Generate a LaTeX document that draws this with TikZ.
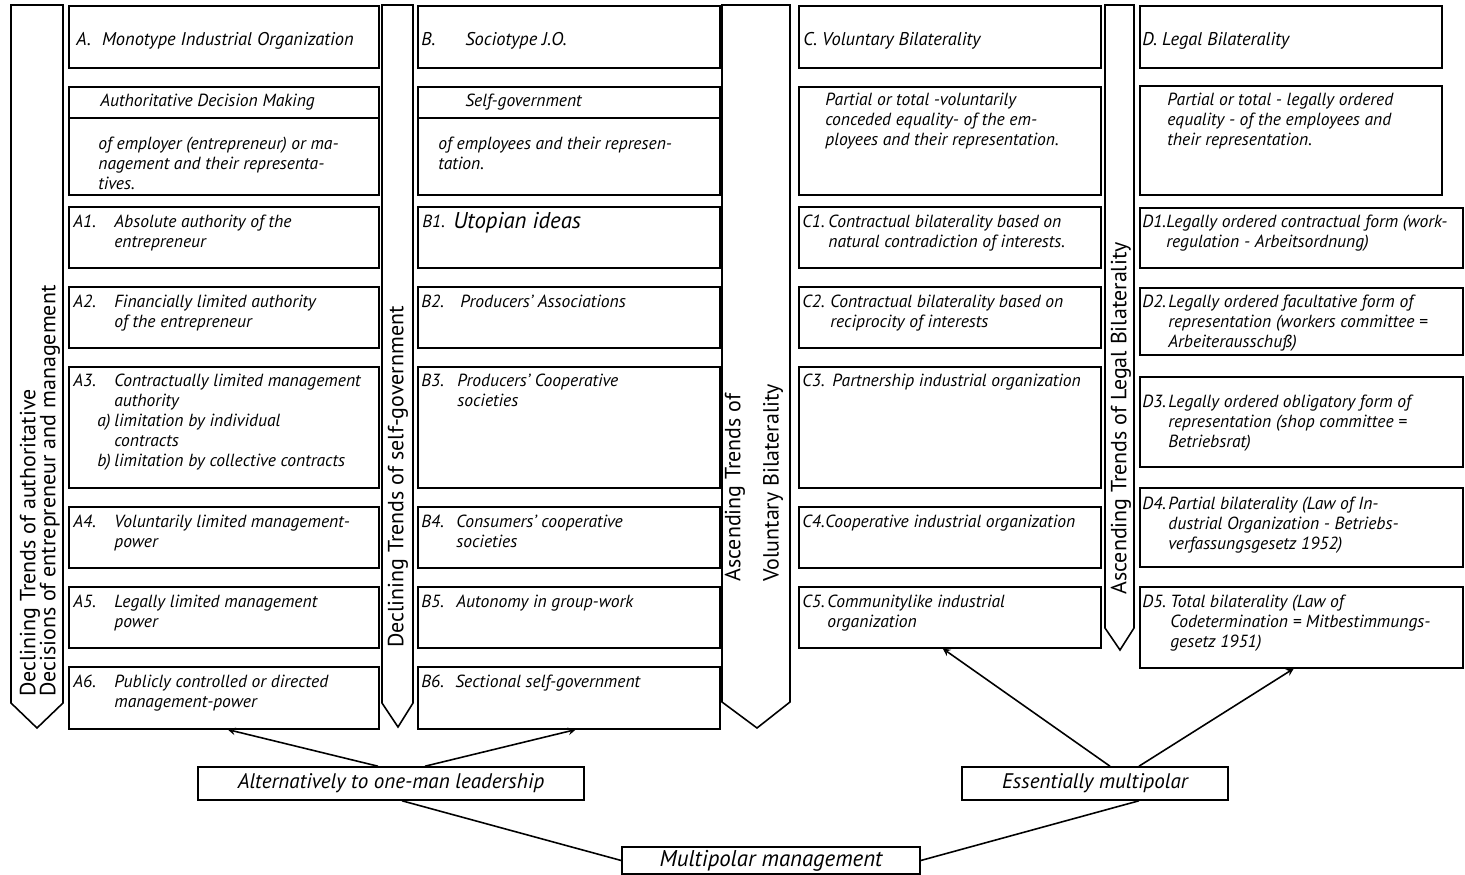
\documentclass[tikz,border=0pt]{standalone}
\usepackage{fontspec}
\setmainfont{PT Sans}
\usepackage{tikz}

\tikzset{
  box/.style={draw, line width=0.9pt, inner sep=0pt, anchor=north west},
  txt/.style={anchor=north west, inner sep=0pt, align=left, font=\fontsize{10}{11.3}\selectfont\itshape},
  head/.style={anchor=north west, inner sep=0pt, font=\fontsize{10.5}{12}\selectfont\itshape},
  trend/.style={rotate=90, anchor=west, inner sep=0pt, font=\fontsize{12.5}{14}\selectfont},
  tag/.style={draw, line width=0.9pt, inner sep=0pt, font=\fontsize{12}{14}\selectfont\itshape},
  band/.style={line width=0.9pt}
}

\begin{document}
\begin{tikzpicture}[x=0.02cm, y=-0.02cm, >=stealth]
    \useasboundingbox (0,0) rectangle (1465,875);

    % trend arrows
    \draw[band] (11,5) -- (63,5) -- (63,703) -- (37,728) -- (11,703) -- cycle;
    \draw[band] (382,5) -- (413,5) -- (413,703) -- (398,727) -- (382,703) -- cycle;
    \draw[band] (722,5) -- (790,5) -- (790,702) -- (757,728) -- (722,702) -- cycle;
    \draw[band] (1105,5) -- (1134,5) -- (1134,628) -- (1120,650) -- (1105,628) -- cycle;
    \node[trend] (tr1a) at (30,697) {Declining Trends of authoritative};
    \node[trend] (tr1b) at (50,697) {Decisions of entrepreneur and management};
    \node[trend] (tr2) at (398,648) {Declining Trends of self-government};
    \node[trend] (tr3a) at (735,582) {Ascending Trends of};
    \node[trend] (tr3b) at (773,582) {Voluntary Bilaterality};
    \node[trend] (tr4) at (1121,595) {Ascending Trends of Legal Bilaterality};

    % column A
    \node[box, minimum width=6.2cm, minimum height=1.24cm] (atitle) at (68,5) {};
    \node[box, minimum width=6.2cm, minimum height=2.16cm] (adesc) at (68,86) {};
    \draw[band] (68,118) -- (378,118);
    \node[box, minimum width=6.2cm, minimum height=1.22cm] (a1) at (68,206) {};
    \node[box, minimum width=6.2cm, minimum height=1.22cm] (a2) at (68,286) {};
    \node[box, minimum width=6.2cm, minimum height=2.42cm] (a3) at (68,366) {};
    \node[box, minimum width=6.2cm, minimum height=1.22cm] (a4) at (68,506) {};
    \node[box, minimum width=6.2cm, minimum height=1.22cm] (a5) at (68,586) {};
    \node[box, minimum width=6.2cm, minimum height=1.24cm] (a6) at (68,666) {};
    \node[head] (ath) at (76,32) {A.\hspace{0.6em}Monotype Industrial Organization};
    \node[txt] (adh) at (100,94) {Authoritative Decision Making};
    \node[txt] (adt) at (98,137) {of employer (entrepreneur) or ma-\\nagement and their representa-\\tives.};
    \node[txt] (a1n) at (73,215) {A1.};
    \node[txt] (a1t) at (114,215) {Absolute authority of the\\entrepreneur};
    \node[txt] (a2n) at (73,295) {A2.};
    \node[txt] (a2t) at (114,295) {Financially limited authority\\of the entrepreneur};
    \node[txt] (a3n) at (73,374) {A3.};
    \node[txt] (a3t) at (114,374) {Contractually limited management\\authority};
    \node[txt] (a3an) at (97,414) {a)};
    \node[txt] (a3at) at (114,414) {limitation by individual\\contracts};
    \node[txt] (a3bn) at (97,454) {b)};
    \node[txt] (a3bt) at (114,454) {limitation by collective contracts};
    \node[txt] (a4n) at (73,515) {A4.};
    \node[txt] (a4t) at (114,515) {Voluntarily limited management-\\power};
    \node[txt] (a5n) at (73,595) {A5.};
    \node[txt] (a5t) at (114,595) {Legally limited management\\power};
    \node[txt] (a6n) at (73,675) {A6.};
    \node[txt] (a6t) at (114,675) {Publicly controlled or directed\\management-power};

    % column B
    \node[box, minimum width=6.04cm, minimum height=1.24cm] (btitle) at (417,5) {};
    \node[box, minimum width=6.04cm, minimum height=2.16cm] (bdesc) at (417,86) {};
    \draw[band] (417,118) -- (719,118);
    \node[box, minimum width=6.04cm, minimum height=1.22cm] (b1) at (417,206) {};
    \node[box, minimum width=6.04cm, minimum height=1.22cm] (b2) at (417,286) {};
    \node[box, minimum width=6.04cm, minimum height=2.42cm] (b3) at (417,366) {};
    \node[box, minimum width=6.04cm, minimum height=1.22cm] (b4) at (417,506) {};
    \node[box, minimum width=6.04cm, minimum height=1.22cm] (b5) at (417,586) {};
    \node[box, minimum width=6.04cm, minimum height=1.24cm] (b6) at (417,666) {};
    \node[head] (bthn) at (421,32) {B.};
    \node[head] (btht) at (465,32) {Sociotype J.O.};
    \node[txt] (bdh) at (465,94) {Self-government};
    \node[txt] (bdt) at (438,137) {of employees and their represen-\\tation.};
    \node[txt] (b1n) at (422,215) {B1.};
    \node[txt, font=\fontsize{13}{15}\selectfont\itshape] (b1t) at (453,212) {Utopian ideas};
    \node[txt] (b2n) at (421,295) {B2.};
    \node[txt] (b2t) at (460,295) {Producers' Associations};
    \node[txt] (b3n) at (421,374) {B3.};
    \node[txt] (b3t) at (457,374) {Producers' Cooperative\\societies};
    \node[txt] (b4n) at (421,515) {B4.};
    \node[txt] (b4t) at (456,515) {Consumers' cooperative\\societies};
    \node[txt] (b5n) at (421,595) {B5.};
    \node[txt] (b5t) at (456,595) {Autonomy in group-work};
    \node[txt] (b6n) at (421,675) {B6.};
    \node[txt] (b6t) at (455,675) {Sectional self-government};

    % column C
    \node[box, minimum width=6.04cm, minimum height=1.24cm] (ctitle) at (798,5) {};
    \node[box, minimum width=6.04cm, minimum height=2.16cm] (cdesc) at (798,86) {};
    \node[box, minimum width=6.04cm, minimum height=1.22cm] (c1) at (798,206) {};
    \node[box, minimum width=6.04cm, minimum height=1.22cm] (c2) at (798,286) {};
    \node[box, minimum width=6.04cm, minimum height=2.42cm] (c3) at (798,366) {};
    \node[box, minimum width=6.04cm, minimum height=1.22cm] (c4) at (798,506) {};
    \node[box, minimum width=6.04cm, minimum height=1.22cm] (c5) at (798,586) {};
    \node[head] (cth) at (803,32) {C. Voluntary Bilaterality};
    \node[txt] (cdt) at (825,93) {Partial or total -voluntarily\\conceded equality- of the em-\\ployees and their representation.};
    \node[txt] (c1n) at (802,215) {C1.};
    \node[txt] (c1t) at (828,215) {Contractual bilaterality based on\\natural contradiction of interests.};
    \node[txt] (c2n) at (802,295) {C2.};
    \node[txt] (c2t) at (830,295) {Contractual bilaterality based on\\reciprocity of interests};
    \node[txt] (c3n) at (802,374) {C3.};
    \node[txt] (c3t) at (832,374) {Partnership industrial organization};
    \node[txt] (c4n) at (802,515) {C4.};
    \node[txt] (c4t) at (825,515) {Cooperative industrial organization};
    \node[txt] (c5n) at (802,595) {C5.};
    \node[txt] (c5t) at (827,595) {Communitylike industrial\\organization};

    % column D
    \node[box, minimum width=6.04cm, minimum height=1.24cm] (dtitle) at (1139,5) {};
    \node[box, minimum width=6.04cm, minimum height=2.18cm] (ddesc) at (1139,85) {};
    \node[box, minimum width=6.46cm, minimum height=1.2cm] (d1) at (1139,207) {};
    \node[box, minimum width=6.46cm, minimum height=1.34cm] (d2) at (1139,287) {};
    \node[box, minimum width=6.46cm, minimum height=1.8cm] (d3) at (1139,376) {};
    \node[box, minimum width=6.46cm, minimum height=1.58cm] (d4) at (1139,487) {};
    \node[box, minimum width=6.46cm, minimum height=1.62cm] (d5) at (1139,586) {};
    \node[head] (dth) at (1142,32) {D. Legal Bilaterality};
    \node[txt] (ddt) at (1167,93) {Partial or total - legally ordered\\equality - of the employees and\\their representation.};
    \node[txt] (d1n) at (1142,215) {D1.};
    \node[txt] (d1t) at (1166,215) {Legally ordered contractual form (work-\\regulation - Arbeitsordnung)};
    \node[txt] (d2n) at (1142,295) {D2.};
    \node[txt] (d2t) at (1168,295) {Legally ordered facultative form of\\representation (workers committee =\\Arbeiterausschuß)};
    \node[txt] (d3n) at (1142,395) {D3.};
    \node[txt] (d3t) at (1168,395) {Legally ordered obligatory form of\\representation (shop committee =\\Betriebsrat)};
    \node[txt] (d4n) at (1142,497) {D4.};
    \node[txt] (d4t) at (1168,497) {Partial bilaterality (Law of In-\\dustrial Organization - Betriebs-\\verfassungsgesetz 1952)};
    \node[txt] (d5n) at (1142,595) {D5.};
    \node[txt] (d5t) at (1170,595) {Total bilaterality (Law of\\Codetermination = Mitbestimmungs-\\gesetz 1951)};

    % bottom
    \node[tag, minimum width=7.72cm, minimum height=0.66cm] (alt) at (391,783.5) {Alternatively to one-man leadership};
    \node[tag, minimum width=5.32cm, minimum height=0.66cm] (ess) at (1095,783.5) {Essentially multipolar};
    \node[tag, minimum width=5.96cm, minimum height=0.54cm, font=\fontsize{13}{15}\selectfont\itshape] (multi) at (771,860.5) {Multipolar management};
    \draw[band, ->] ([xshift=-0.26cm]alt.north) -- ([xshift=0.08cm]a6.south);
    \draw[band, ->] ([xshift=0.68cm]alt.north) -- ([xshift=0.14cm]b6.south);
    \draw[band, ->] ([xshift=0.3cm]ess.north) -- ([xshift=-0.14cm]c5.south);
    \draw[band, ->] ([xshift=0.88cm]ess.north) -- ([xshift=-0.15cm]d5.south);
    \draw[band] ([xshift=0.22cm]alt.south) -- (multi.west);
    \draw[band] ([xshift=0.88cm]ess.south) -- (multi.east);
\end{tikzpicture}
\end{document}
